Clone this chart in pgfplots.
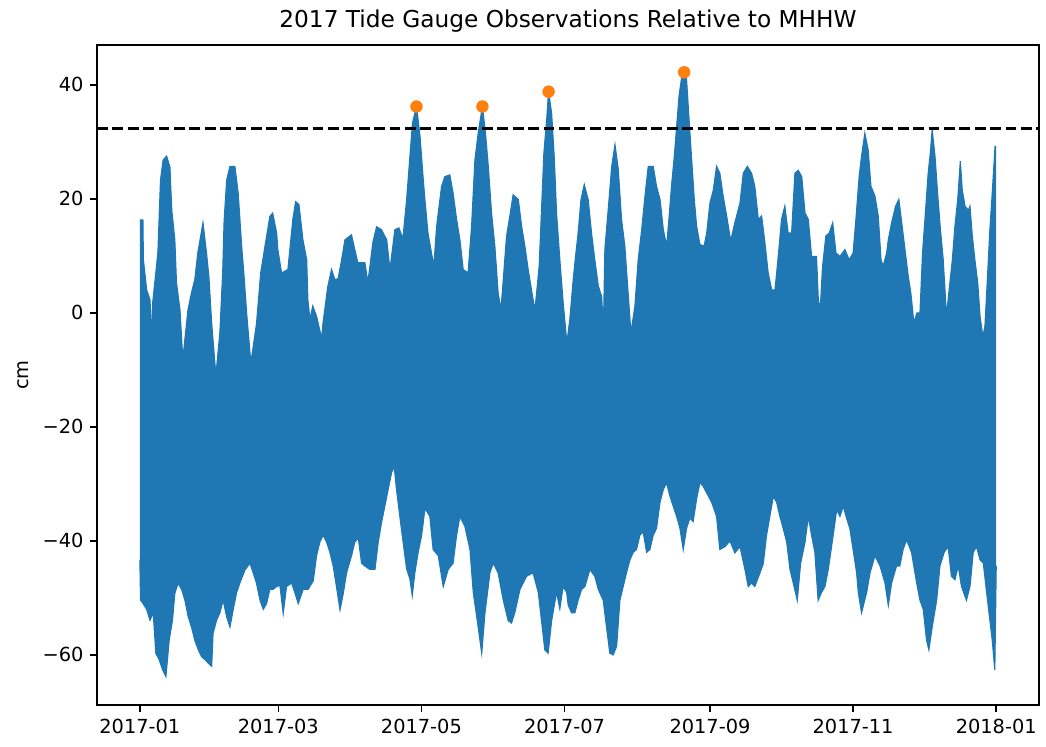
\documentclass[border=0pt]{standalone}
\usepackage{fontspec}
\setmainfont{DejaVu Sans}
\usepackage{pgfplots}
\pgfplotsset{compat=1.18}
\usepgfplotslibrary{fillbetween}
\definecolor{mplblue}{RGB}{31,119,180}
\definecolor{mplorange}{RGB}{255,127,14}
\begin{document}
\begin{tikzpicture}
\begin{axis}[
  name=ax,
  scale only axis,
  width=486.3pt, height=340.8pt,
  xmin=-18.25, xmax=383.25,
  ymin=-68.8, ymax=47,
  axis line style={black, line width=0.8pt},
  tick style={black, line width=0.8pt},
  major tick length=3.5pt,
  tick align=outside,
  xtick pos=bottom, ytick pos=left,
  xtick={0,59,120,181,243,304,365},
  xticklabels={2017-01,2017-03,2017-05,2017-07,2017-09,2017-11,2018-01},
  ytick={-60,-40,-20,0,20,40},
  yticklabels={−60,−40,−20,0,20,40},
  ticklabel style={font=\fontsize{10}{12}\selectfont},
  title={2017 Tide Gauge Observations Relative to MHHW},
  title style={font=\fontsize{12}{14}\selectfont, yshift=-3pt},
  ylabel={cm},
  ylabel style={font=\fontsize{10}{12}\selectfont},
  clip=true,
]
\addplot[mplblue, line width=0.6pt, name path=U] coordinates {
(0,16.3) (1.3,16.3) (1.5,9.3) (2.9,4) (4.3,2.3) (5.1,-4.5) (5.5,1.9) (6.8,7) (7.7,10.7) (8.8,23.3) (9.9,26.8) (11.4,27.5) (12.8,25.6) (13.6,18) (14.9,12.8) (15.6,5.3) (17.1,0.5) (18.3,-8.2) (20.5,0.5) (22,3.5) (23.4,5.8) (24.7,10.5) (26.9,15.8) (28.4,10.5) (29.4,6.4) (30.6,-1.8) (32.4,-11) (34.1,-3.5) (35.3,7) (35.9,16) (37,23.3) (38.4,25.7) (40.5,25.7) (41.9,21) (43.4,11.6) (44.3,7) (45.5,0) (47.3,-8.8) (49.7,-2) (51.5,7) (53.3,11.6) (55.4,16.9) (56.6,17.5) (58.3,14) (58.8,11.1) (60.4,7) (63.1,7.6) (65.2,16.4) (66.4,19.5) (67.8,19) (69.5,12.8) (71.1,9.3) (71.6,2.3) (72.5,-1.2) (73.7,1.2) (75.3,-0.6) (77.5,-4.5) (78,-2) (80.1,4.6) (81.7,7.6) (83.1,5.8) (84.5,6) (86,9.3) (87.4,12.8) (90.2,13.7) (91.6,11.1) (92.9,8.8) (95.9,8.8) (97.2,5.3) (99.3,12.3) (100.9,15.1) (103,14.6) (105.2,12.8) (106.6,7.6) (108.7,14.6) (110.4,14.9) (112.1,13) (113.7,19.8) (115.1,27.4) (116.2,33.3) (117.9,36.2) (119.4,31) (120.8,23.3) (121.5,19.8) (122.8,14) (124.3,10.5) (125.3,8.2) (126.5,15.2) (128.6,22.2) (130,23.9) (132.1,24.2) (133.5,21) (135,16.4) (136.4,12.8) (137.8,7.6) (139.9,7) (141.4,15.2) (142.8,26.8) (144.2,31.5) (146,36.2) (147.3,31.5) (148.5,25.7) (149.9,17.5) (151.3,11.7) (152.7,3.5) (153.9,0.5) (154.7,4.7) (156.3,13.5) (157.7,17) (159.1,20.7) (161.3,19.9) (162.7,15.2) (164.1,11.7) (165.5,7.6) (167.6,2.3) (168.4,0.5) (170.2,8.2) (171.2,18) (172.2,28) (173.4,33.9) (174.2,38.8) (175.5,35) (176.6,27.4) (177.6,17.5) (179,9.3) (180.4,1.8) (182,-5.3) (183.3,-1) (184.7,5.8) (185.7,9.9) (186.8,14) (188,19.8) (189.4,22.5) (191.1,19.8) (192.5,14) (193.9,9.3) (195.4,4.7) (196.8,2.9) (197.6,-2.5) (198.2,11.1) (199.6,18) (201.1,25.6) (202.5,29.5) (203.9,25.2) (205.3,16.4) (206.7,11.7) (208.2,2.9) (209.3,-3.5) (211,1.2) (212.4,9.3) (213.9,14.6) (215.3,20.5) (216.7,25.7) (218.8,25.7) (220.2,22.2) (221.7,19.9) (223.1,14.6) (224.5,11.7) (225.5,16.4) (226.6,22.2) (227.8,27.5) (228.8,32.7) (229.8,38) (230.9,41.2) (232,42.2) (233,41) (234,34.4) (235.2,26.8) (236.3,19.9) (237.3,15.2) (238.7,12) (240.5,11.7) (241.6,14) (243,19.3) (244.4,21.5) (245.8,25.7) (247.2,24.5) (248.6,20.5) (250.1,17) (251.8,12.6) (253.6,15.8) (255.8,19.3) (257.2,24.5) (258.9,25.7) (260.7,24.5) (262.1,22.2) (263.6,16.4) (265,17) (266.4,12.3) (267.8,7) (269.3,4) (270.7,4) (272.1,9.9) (273.5,16.4) (274.9,18.7) (276.3,14) (277.8,14) (279.2,24.5) (280.6,25) (282.1,23.9) (283.5,17.5) (284.9,16.4) (286.3,9.9) (288.4,9.9) (289.1,2.9) (289.9,0) (291,8.2) (292.4,13.5) (293.8,14) (295.3,15.8) (296.7,10.5) (298.4,9.9) (300.5,11.1) (302.3,9.3) (304,10.5) (305.2,16.4) (306.6,24) (307.6,27.5) (309,31.5) (310.4,28.6) (311.6,22.2) (313.3,20.5) (314.7,17) (315.9,9.3) (316.8,8.2) (318.3,10.5) (319,12.8) (320.4,15.8) (322.1,18.7) (323.5,19.9) (324.9,15.2) (326.1,11.1) (327.5,6.4) (328.6,3.5) (329.9,-1.8) (331.2,0) (332.5,0) (333.6,10.5) (334.9,18) (336,24.5) (336.9,28) (337.7,32.1) (338.9,27.5) (340,21) (341.1,15.2) (342.4,9.3) (343.8,-0.6) (344.8,3.5) (346.3,9.3) (347.4,15.2) (348.6,19.9) (349.7,26.6) (350.5,21.6) (351.7,18.7) (353.1,18) (353.8,18.7) (354.8,13.5) (355.9,9.3) (357.1,5.3) (358.1,-0.6) (359.3,-4.2) (360.2,-2.3) (361.3,6.4) (362.3,14.6) (363.3,21) (364.5,29.2) (365,29.2)
};
\addplot[mplblue, line width=0.6pt, name path=L] coordinates {
(0,-43.3) (0.3,-50.4) (1.4,-51) (2.9,-52) (4.3,-53.9) (5.7,-52.6) (6.8,-59.7) (8.2,-60.8) (9.7,-62.6) (11.1,-63.8) (12.5,-57.4) (13.9,-53.9) (14.9,-49.2) (16.3,-47.4) (17.8,-48.5) (19.2,-50.4) (20.6,-53.3) (22,-55.1) (23.4,-57.4) (24.9,-59.1) (26.3,-60.3) (27.7,-60.8) (29.1,-61.4) (30.6,-62) (31.2,-56.2) (32.7,-53.9) (34.1,-52.6) (35.5,-50.4) (37,-53.3) (38.4,-55.1) (39.8,-52) (41.2,-49.1) (42.6,-47.4) (44.8,-45.1) (46.9,-43.9) (48.3,-45.6) (49.7,-47.4) (51.2,-50.4) (52.6,-52) (54,-51) (55.4,-48.5) (56.8,-48.5) (58.3,-48) (59.7,-47.8) (61.1,-52.7) (62.5,-48) (64.7,-47.4) (66.1,-49.1) (67.5,-51) (69.6,-48.5) (71.7,-48.5) (73.9,-47) (75.3,-42.6) (76.7,-40.2) (78.1,-39) (79.6,-40.2) (81,-42) (82.4,-44.4) (83.8,-48) (85.3,-52.1) (86.7,-49.2) (88.1,-45.6) (90.2,-42.6) (91.6,-40.2) (93.1,-39.5) (94.5,-43.9) (95.9,-44.4) (98,-45) (100.2,-45) (101.6,-40.2) (103,-36.8) (104.4,-33.9) (105.8,-31) (107.3,-28) (108.4,-26.9) (109.4,-31) (110.8,-35.7) (112.2,-40.2) (113.7,-44.9) (115.1,-46.7) (116.1,-49.6) (117.2,-45.6) (118.6,-42) (120.1,-39) (121.5,-34.3) (123.6,-35.7) (125,-41.5) (127.2,-42.6) (129.3,-48) (131.4,-45) (133.5,-43.9) (135,-39) (136.4,-35.7) (138.5,-37.4) (140.7,-41.5) (142.1,-49) (144.2,-55.1) (145.7,-59.7) (147.1,-52.6) (149.2,-45.6) (150.6,-43.9) (152.7,-45.6) (154.9,-50.4) (157,-54) (158.4,-54.4) (159.8,-52.6) (162,-48.5) (164.8,-46.2) (167.6,-45.6) (169.8,-49) (171.2,-54) (172.6,-59.1) (174,-59.7) (175.5,-54) (177.6,-49) (179,-51.9) (180.4,-48) (181.9,-49) (182.6,-51.3) (184,-52.6) (185.4,-52.6) (186.8,-50.4) (188.3,-48.5) (189.7,-48) (191.8,-45) (193.9,-46.2) (195.4,-48.5) (197.5,-50.4) (198.9,-55.1) (200.3,-59.7) (201.7,-60) (203.2,-58.5) (204.6,-50.4) (206,-48) (207.4,-45.6) (208.9,-43.3) (210.3,-42) (211.7,-41.5) (213.1,-39) (214.5,-38.4) (216,-42) (217.4,-41.5) (218.8,-39) (220.2,-37.8) (221.7,-33.2) (223.1,-31) (224.5,-29.8) (225.9,-32.1) (227.3,-33.9) (228.8,-35.7) (230.2,-37.8) (231.6,-41.5) (233,-37.8) (234.4,-36) (235.8,-36.6) (237.3,-32.6) (238.7,-29.8) (240.1,-30.4) (241.6,-31.6) (243.7,-33.2) (245.8,-35.7) (247.2,-41.5) (249.4,-41) (251.5,-40) (253.6,-42.1) (255.8,-41) (257.9,-45) (259.3,-48) (260.7,-47.4) (262.1,-48) (264.3,-45.6) (265.7,-44) (267.1,-39) (268.5,-35.7) (270,-32.2) (271.4,-33.2) (272.8,-35.7) (274.2,-37.8) (275.7,-40.2) (277.1,-45) (278.5,-47.4) (280.2,-50.4) (281.6,-44) (283.5,-40.2) (284.9,-35.7) (286.3,-39) (287.7,-42) (289.1,-50.4) (290.6,-49) (292,-48) (293.4,-45) (295.5,-39) (297,-34.5) (298.4,-35.7) (299.8,-33.9) (301.2,-36) (302.6,-37.8) (304,-41.5) (305.5,-45.6) (306.2,-49) (307.6,-52.6) (309.8,-49) (311.2,-45.6) (313.3,-42.6) (315.5,-44.4) (317.6,-47.4) (319,-51.3) (320.4,-47.4) (322.5,-44.4) (323.9,-44.4) (325.3,-41.5) (326.8,-39.8) (328.9,-42) (331.1,-47.4) (332.5,-50.4) (333.9,-52) (335.3,-57.4) (336.3,-59.1) (337.7,-55.1) (339.6,-50.4) (341,-44.4) (342.8,-42) (344.5,-41) (345.9,-46.2) (347.4,-46.8) (348.8,-44.4) (350.2,-48) (352.3,-50.4) (353.8,-48) (355.2,-42) (356.6,-41) (358.1,-43.3) (359.5,-43.9) (360.9,-49) (362.3,-53.9) (363.3,-57.4) (364.4,-62.6) (365,-44.4)
};
\addplot[fill=mplblue, draw=none] fill between[of=U and L];
\addplot[black, line width=1.5pt, dash pattern=on 5.55pt off 2.4pt] coordinates {(-18.25,32.3) (383.25,32.3)};
\addplot[only marks, mark=*, mark size=3pt, mplorange, mark options={draw=mplorange, fill=mplorange}] coordinates {(117.9,36.2) (146,36.2) (174.2,38.8) (232,42.2)};
\coordinate (SW) at (rel axis cs:0,0);
\coordinate (NE) at (rel axis cs:1,1);
\end{axis}
\pgfresetboundingbox
\path ([xshift=-50.1pt,yshift=-21.2pt]SW) rectangle ([xshift=3.6pt,yshift=23.2pt]NE);
\end{tikzpicture}
\end{document}
